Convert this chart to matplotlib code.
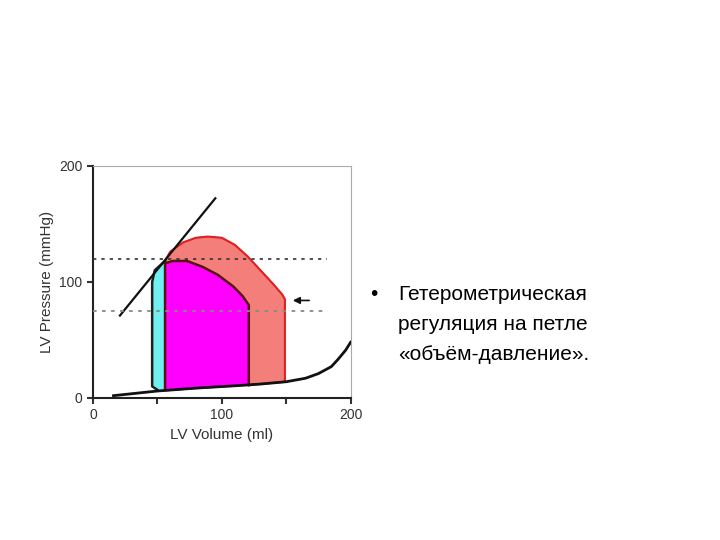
import numpy as np
import matplotlib
matplotlib.use("Agg")
import matplotlib.pyplot as plt

plt.rcParams['font.family'] = ['Liberation Sans', 'DejaVu Sans']

edpvr_v = [16, 50, 80, 110, 130, 150, 165, 175, 185, 190, 196, 200]
edpvr_p = [2, 6, 8.5, 10.5, 12, 14, 17, 21, 27, 33, 41, 48]

red_v = [56, 56, 60, 70, 80, 89, 100, 110, 120, 130, 140, 147, 149, 149]
red_p = [8, 118, 126, 134, 138, 139, 138, 132, 122, 110, 98, 89, 85, 14]
mag_v = [56, 56, 62, 73, 85, 97, 109, 116, 121, 121]
mag_p = [8, 116, 118, 118, 113, 106, 96, 88, 80, 11]
cyan_v = [50, 46, 46, 48, 52, 56, 56]
cyan_p = [7, 10, 100, 110, 114, 118, 8]
espvr_v = [21, 95]
espvr_p = [71, 172]
ref_levels = [120, 75]
bullet = ["Гетерометрическая", "регуляция на петле", "«объём-давление»."]

fig = plt.figure(figsize=(7.2, 5.4), dpi=100)
ax = fig.add_axes([0.129, 0.263, 0.358, 0.43])
ax.set_xlim(0, 200)
ax.set_ylim(0, 200)

ev = np.array(edpvr_v, float); ep = np.array(edpvr_p, float)
def edp(v):
    return np.interp(v, ev, ep)

def closed(vs, ps, vstart, vend):
    bv = np.linspace(vend, vstart, 30)
    return np.concatenate([vs, bv]), np.concatenate([ps, edp(bv)])

rv, rp = closed(red_v, red_p, 56, 149)
ax.fill(rv, rp, color='#f47f7a', zorder=1)
ax.plot(rv, rp, color='#e02020', lw=1.5, zorder=2)
mv, mp = closed(mag_v, mag_p, 56, 121)
ax.fill(mv, mp, color='#ff00ff', zorder=3)
ax.plot(mag_v, mag_p, color='#5a1010', lw=1.8, zorder=4)
ax.fill(cyan_v, cyan_p, color='#70f0f0', zorder=3)
ax.plot(cyan_v[:-1], cyan_p[:-1], color='#202020', lw=1.8, zorder=4)

ax.plot(edpvr_v, edpvr_p, color='#111111', lw=2, zorder=5)
ax.plot(espvr_v, espvr_p, color='#111111', lw=1.6, zorder=5)
ax.plot([0, 182], [ref_levels[0]] * 2, color='#333333', lw=1.2, ls=(0, (2, 3)), zorder=6)
ax.plot([0, 182], [ref_levels[1]] * 2, color='#888888', lw=1.3, ls=(0, (2, 3)), zorder=6)
ax.annotate('', xy=(153, 84), xytext=(170, 84),
            arrowprops=dict(arrowstyle='-|>', color='#111111', lw=1.2))

for s in ['top', 'right']:
    ax.spines[s].set_color('#aaaaaa')
for s in ['left', 'bottom']:
    ax.spines[s].set_color('#222222')
    ax.spines[s].set_linewidth(1.5)
ax.set_xticks([0, 50, 100, 150, 200])
ax.set_xticklabels(['0', '', '100', '', '200'])
ax.set_yticks([0, 100, 200])
ax.tick_params(colors='#333333', labelsize=10, length=4, width=1.5)
ax.set_xlabel('LV Volume (ml)', fontsize=11, color='#333333')
ax.set_ylabel('LV Pressure (mmHg)', fontsize=11, color='#333333')

fig.text(0.514, 0.455, '•', fontsize=15, va='center')
for i, line in enumerate(bullet):
    fig.text(0.553, 0.455 - i * 0.056, line, fontsize=15, va='center')

fig.savefig('out.png', dpi=100)
